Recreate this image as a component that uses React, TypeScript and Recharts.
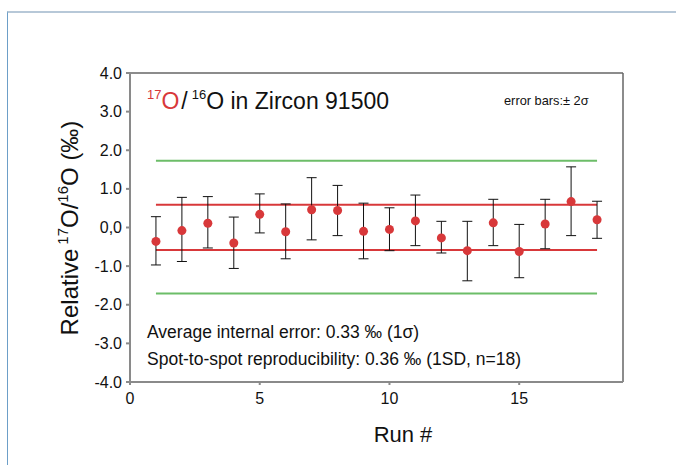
import { ScatterChart, Scatter, XAxis, YAxis, ErrorBar, ReferenceLine } from 'recharts'

const runs = [1, 2, 3, 4, 5, 6, 7, 8, 9, 10, 11, 12, 13, 14, 15, 16, 17, 18]
const values = [-0.36, -0.08, 0.11, -0.4, 0.34, -0.11, 0.46, 0.44, -0.1, -0.05, 0.17, -0.27, -0.6, 0.12, -0.62, 0.09, 0.67, 0.2]
const barTops = [0.28, 0.78, 0.8, 0.27, 0.87, 0.61, 1.29, 1.09, 0.63, 0.51, 0.84, 0.16, 0.16, 0.73, 0.08, 0.73, 1.57, 0.68]
const barBottoms = [-0.97, -0.88, -0.53, -1.06, -0.14, -0.81, -0.32, -0.21, -0.81, -0.6, -0.47, -0.66, -1.38, -0.47, -1.3, -0.55, -0.21, -0.28]
const yTicks = [-4, -3, -2, -1, 0, 1, 2, 3, 4]
const xTicks = [0, 5, 10, 15]
const redLevels = [0.59, -0.58]
const greenLevels = [1.73, -1.71]

const points = runs.map((run, i) => ({
  run,
  value: values[i],
  err: [values[i] - barBottoms[i], barTops[i] - values[i]],
}))

const FONT = '"Liberation Sans", Arial, sans-serif'
const RED = '#d8383a'
const GREEN = '#6cbd68'
const AXIS = '#8a8a8a'

const YTick = ({ x, y, payload }: any) => (
  <text x={x} y={y} dy={5.5} textAnchor="end" fontFamily={FONT} fontSize={16} fill="#111">
    {payload.value === 0 ? '0,0' : Number(payload.value).toFixed(1)}
  </text>
)

const XTick = ({ x, y, payload }: any) => (
  <text x={x} y={y} dy={15} textAnchor="middle" fontFamily={FONT} fontSize={16} fill="#111">
    {payload.value}
  </text>
)

const YLabel = () => (
  <text
    x={78}
    y={228}
    transform="rotate(-90, 78, 228)"
    textAnchor="middle"
    fontFamily={FONT}
    fontSize={24}
    fill="#111"
  >
    Relative
    <tspan fontSize={15} dx={4} dy={-10}>17</tspan>
    <tspan dy={10}>O/</tspan>
    <tspan fontSize={15} dy={-10}>16</tspan>
    <tspan dy={10}>O (‰)</tspan>
  </text>
)

const XLabel = () => (
  <text x={403} y={442} textAnchor="middle" fontFamily={FONT} fontSize={22} fill="#111">
    Run #
  </text>
)

export default function App() {
  return (
    <div style={{ position: 'absolute', left: 0, top: 0, width: 676, height: 465, background: '#fff' }}>
      <div
        style={{
          position: 'absolute',
          left: 7,
          top: 11,
          right: 0,
          bottom: 0,
          borderTop: '2px solid #b7c8d8',
          borderLeft: '1px solid #6d9fc8',
        }}
      />
      <ScatterChart width={676} height={465} margin={{ top: 73, right: 53, bottom: 53, left: 70 }}>
        <XAxis
          dataKey="run"
          type="number"
          domain={[0, 19]}
          ticks={xTicks}
          height={30}
          stroke={AXIS}
          strokeWidth={2}
          tickSize={3}
          tickMargin={4}
          tick={<XTick />}
          label={<XLabel />}
        />
        <YAxis
          dataKey="value"
          type="number"
          domain={[-4, 4]}
          ticks={yTicks}
          width={60}
          stroke={AXIS}
          strokeWidth={2}
          tickSize={4}
          tickMargin={4}
          tick={<YTick />}
          label={<YLabel />}
        />
        <ReferenceLine y={4} stroke="#666" strokeWidth={1.5} />
        <ReferenceLine x={19} stroke="#666" strokeWidth={1.5} />
        {greenLevels.map((lv) => (
          <ReferenceLine
            key={'g' + lv}
            segment={[{ x: 1, y: lv }, { x: 18, y: lv }]}
            stroke={GREEN}
            strokeWidth={2}
          />
        ))}
        {redLevels.map((lv) => (
          <ReferenceLine
            key={'r' + lv}
            segment={[{ x: 1, y: lv }, { x: 18, y: lv }]}
            stroke={RED}
            strokeWidth={2}
          />
        ))}
        <Scatter
          data={points}
          fill={RED}
          isAnimationActive={false}
          shape={(p: any) => <circle cx={p.cx} cy={p.cy} r={4.5} fill={RED} />}
        >
          <ErrorBar dataKey="err" direction="y" width={5} stroke="#111" strokeWidth={1} isAnimationActive={false} />
        </Scatter>
      </ScatterChart>
      <svg
        width={676}
        height={465}
        style={{ position: 'absolute', left: 0, top: 0, pointerEvents: 'none' }}
        fontFamily={FONT}
      >
        <text x={147} y={109} fontSize={23} fill="#111">
          <tspan fontSize={13} dy={-10} fill={RED}>17</tspan>
          <tspan dy={10} fill={RED}>O</tspan>
          <tspan dx={2}>/</tspan>
          <tspan fontSize={13} dx={4} dy={-10}>16</tspan>
          <tspan dy={10}>O in Zircon 91500</tspan>
        </text>
        <text x={504} y={105} fontSize={12.8} fill="#111">
          error bars:± 2σ
        </text>
        <text x={147} y={338} fontSize={17.5} fill="#111">
          Average internal error: 0.33 ‰ (1σ)
        </text>
        <text x={147} y={365} fontSize={17.5} fill="#111">
          Spot-to-spot reproducibility: 0.36 ‰ (1SD, n=18)
        </text>
      </svg>
    </div>
  )
}
